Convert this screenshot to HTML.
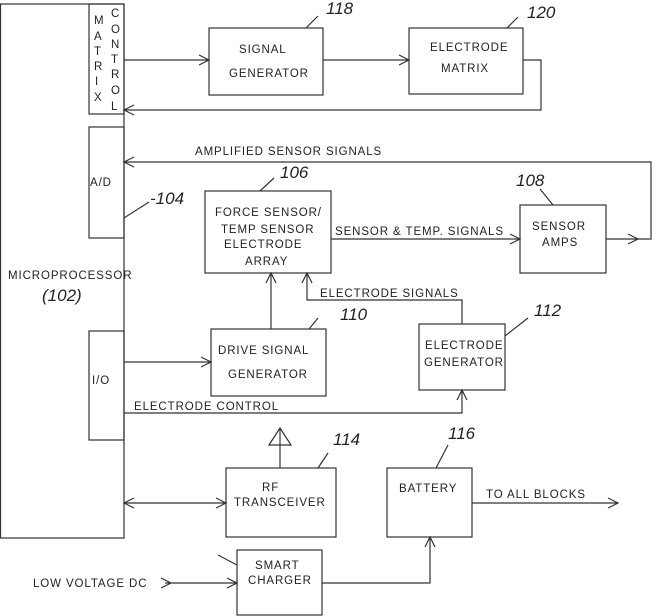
<!DOCTYPE html>
<html><head><meta charset="utf-8"><style>
html,body{margin:0;padding:0;background:#fff;}
svg{display:block;}
text{font-family:"Liberation Sans",sans-serif;font-size:11.5px;fill:#222;letter-spacing:0.9px;}
.n{font-size:17px;font-style:italic;letter-spacing:0;}
</style></head><body>
<svg width="652" height="616" viewBox="0 0 652 616" xmlns="http://www.w3.org/2000/svg">
<g fill="none" stroke="#333" stroke-width="1.2">
<rect x="0.5" y="4" width="123.5" height="534"/>
<rect x="89" y="4" width="35" height="110"/>
<rect x="89" y="127" width="35" height="111"/>
<rect x="89" y="331" width="35" height="109"/>
<rect x="209" y="28" width="114" height="67"/>
<rect x="409" y="28" width="114" height="66"/>
<rect x="205" y="191" width="126" height="82"/>
<rect x="520" y="205" width="86" height="68"/>
<rect x="211" y="329" width="115" height="67"/>
<rect x="419" y="324" width="86" height="66"/>
<rect x="226" y="468" width="110" height="69"/>
<rect x="387" y="468" width="85" height="69"/>
<rect x="237" y="550" width="85" height="65"/>
<path d="M124 60H209M199 55l10 5-10 5"/>
<path d="M323 60H409M399 55l10 5-10 5"/>
<path d="M523 60H541V110H124M134 105l-10 5 10 5"/>
<path d="M606 239H651V162H124M134 157l-10 5 10 5"/>
<path d="M331 239H520M510 234l10 5-10 5M628 234l10 5-10 5"/>
<path d="M271 329V273M266 283l5-10 5 10"/>
<path d="M462 324V300H307V273M302 283l5-10 5 10"/>
<path d="M124 362H211M201 357l10 5-10 5"/>
<path d="M124 413H462V390M457 400l5-10 5 10"/>
<path d="M280 468V428M269 445L280 428L291 445Z"/>
<path d="M124 503H226M134 498l-10 5 10 5M216 498l10 5-10 5"/>
<path d="M472 503H618M608 498l10 5-10 5"/>
<path d="M165 583H237M227 578l10 5-10 5M161 578l10 5-10 5"/>
<path d="M322 583H430V537M425 547l5-10 5 10"/>
<path d="M124 218L149 202"/>
<path d="M306 28L318 16"/>
<path d="M507 28L518 17"/>
<path d="M260 191L274 178"/>
<path d="M553 205L540 189"/>
<path d="M309 329L318 318"/>
<path d="M505 336L528 318"/>
<path d="M318 468L328 453"/>
<path d="M436 468L448 445"/>
<path d="M218 555L237 565"/>
</g>
<g>
<text x="94" y="24">M</text><text x="94" y="40">A</text><text x="94" y="55">T</text><text x="94" y="70">R</text><text x="95" y="85">I</text><text x="94" y="101">X</text>
<text x="111" y="17">C</text><text x="111" y="33">O</text><text x="111" y="48">N</text><text x="111" y="63">T</text><text x="111" y="78">R</text><text x="111" y="94">O</text><text x="111" y="110">L</text>
<text x="90" y="186">A/D</text>
<text x="92" y="384">I/O</text>
<text x="8" y="279">MICROPROCESSOR</text>
<text class="n" x="42" y="301">(102)</text>
<text x="239" y="53">SIGNAL</text>
<text x="229" y="77">GENERATOR</text>
<text x="430" y="51">ELECTRODE</text>
<text x="441" y="72">MATRIX</text>
<text x="195" y="155">AMPLIFIED SENSOR SIGNALS</text>
<text x="215" y="216">FORCE SENSOR/</text>
<text x="221" y="233">TEMP SENSOR</text>
<text x="224" y="248">ELECTRODE</text>
<text x="245" y="265">ARRAY</text>
<text x="335" y="235">SENSOR &amp; TEMP. SIGNALS</text>
<text x="532" y="230">SENSOR</text>
<text x="542" y="246">AMPS</text>
<text x="320" y="297">ELECTRODE SIGNALS</text>
<text x="218" y="354">DRIVE SIGNAL</text>
<text x="228" y="378">GENERATOR</text>
<text x="425" y="349">ELECTRODE</text>
<text x="424" y="366">GENERATOR</text>
<text x="134" y="410">ELECTRODE CONTROL</text>
<text x="262" y="491">RF</text>
<text x="234" y="506">TRANSCEIVER</text>
<text x="399" y="492">BATTERY</text>
<text x="486" y="498">TO ALL BLOCKS</text>
<text x="255" y="569">SMART</text>
<text x="248" y="584">CHARGER</text>
<text x="33" y="587">LOW VOLTAGE DC</text>
<text class="n" x="326" y="14">118</text>
<text class="n" x="527" y="18">120</text>
<text class="n" x="150" y="204">-104</text>
<text class="n" x="280" y="178">106</text>
<text class="n" x="516" y="186">108</text>
<text class="n" x="340" y="320">110</text>
<text class="n" x="534" y="316">112</text>
<text class="n" x="333" y="445">114</text>
<text class="n" x="448" y="439">116</text>
</g>
</svg>
</body></html>
